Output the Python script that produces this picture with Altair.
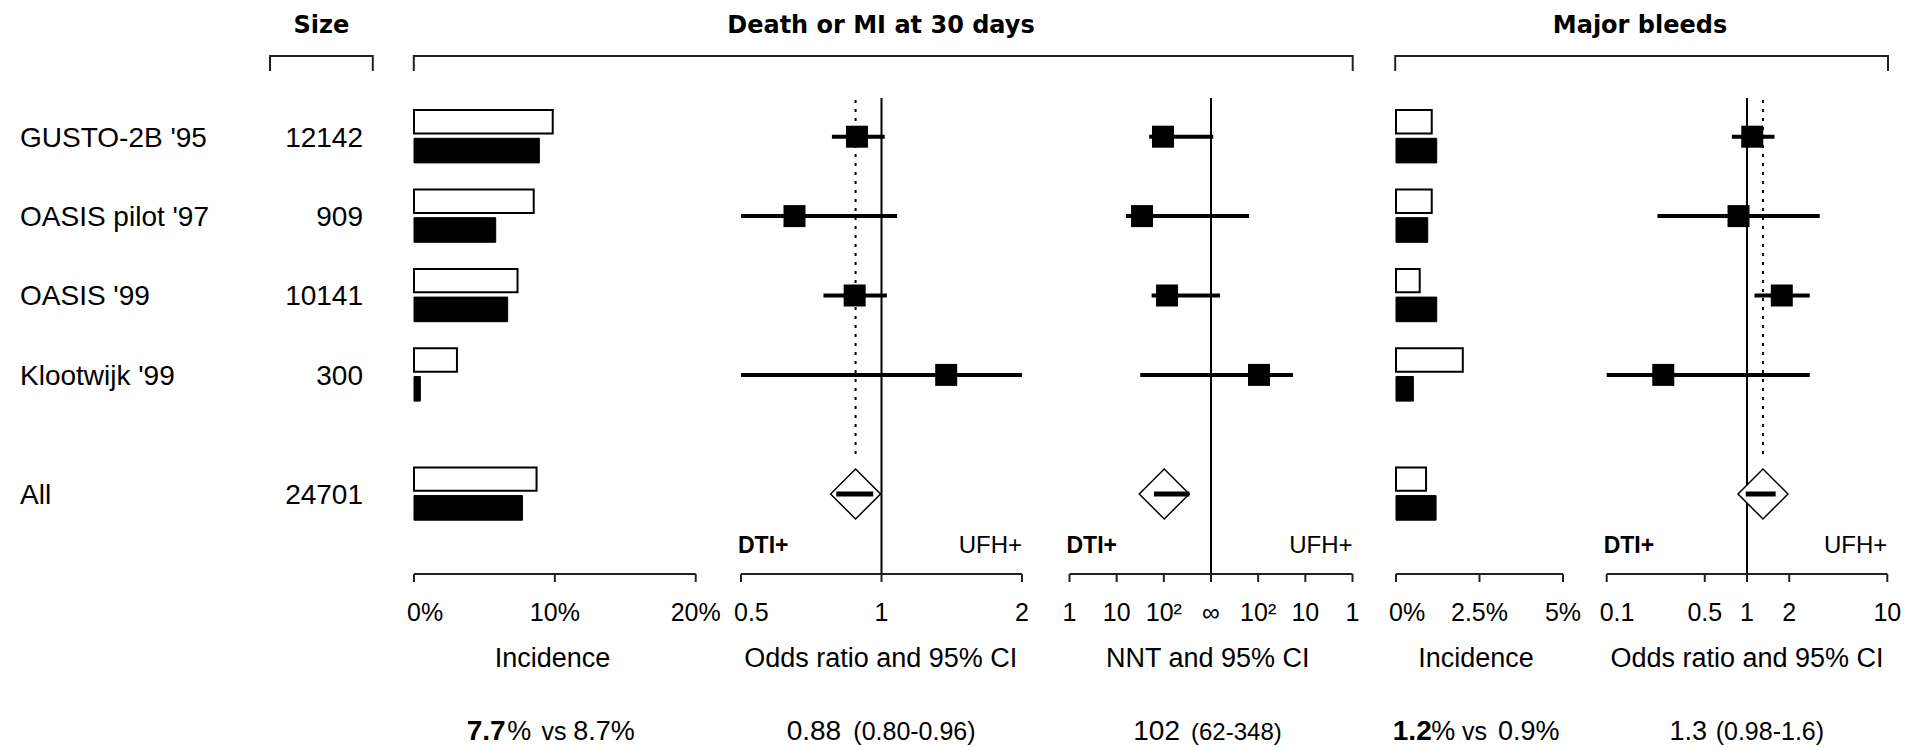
import math
import altair as alt
import pandas as pd

# ------------------------------------------------------------------ data
studies = ["GUSTO-2B '95", "OASIS pilot '97", "OASIS '99", "Klootwijk '99", "All"]
sizes = ["12142", "909", "10141", "300", "24701"]
row_index = [0, 1, 2, 3, 4.5]          # pooled row sits half a row lower

# Death or MI at 30 days
death_inc_ufh = [9.85, 8.5, 7.35, 3.05, 8.7]     # open bars
death_inc_dti = [8.9, 5.8, 6.65, 0.45, 7.7]      # filled bars
death_or = [0.886, 0.651, 0.876, 1.376, 0.88]
death_or_lo = [0.783, 0.50, 0.751, 0.50, 0.80]
death_or_hi = [1.016, 1.08, 1.027, 2.0, 0.96]
# NNT (negative = DTI better, positive = UFH better)
nnt = [-96, -34.5, -117, 96, -102]
nnt_lo = [-49, -15.7, -55, -31.6, -62]
nnt_hi = [898, 156, 646, 18.3, -348]

# Major bleeds
bleed_inc_ufh = [1.07, 1.07, 0.71, 2.0, 0.9]
bleed_inc_dti = [1.22, 0.95, 1.22, 0.52, 1.2]
bleed_or = [1.09, 0.87, 1.77, 0.253, 1.3]
bleed_or_lo = [0.78, 0.23, 1.13, 0.10, 0.98]
bleed_or_hi = [1.57, 3.3, 2.8, 2.8, 1.6]

# axes
inc1_ticks = [0, 10, 20]
inc1_labels = ["0%", "10%", "20%"]
or1_ticks = [0.5, 1, 2]
or1_labels = ["0.5", "1", "2"]
nnt_ticks = [-1, -10, -100, float("inf"), 100, 10, 1]
nnt_labels = ["1", "10", "10\u00b2", "\u221e", "10\u00b2", "10", "1"]
inc2_ticks = [0, 2.5, 5]
inc2_labels = ["0%", "2.5%", "5%"]
or2_ticks = [0.1, 0.5, 1, 2, 10]
or2_labels = ["0.1", "0.5", "1", "2", "10"]

# texts
titles = ["Size", "Death or MI at 30 days", "Major bleeds"]
axis_titles = ["Incidence", "Odds ratio and 95% CI", "NNT and 95% CI",
               "Incidence", "Odds ratio and 95% CI"]
side_labels = ["DTI+", "UFH+"]
sum_death_inc = ["7.7", "%", "vs", "8.7%"]
sum_death_or = ["0.88", "(0.80-0.96)"]
sum_nnt = ["102", "(62-348)"]
sum_bleed_inc = ["1.2", "%", "vs", "0.9%"]
sum_bleed_or = ["1.3", "(0.98-1.6)"]


def nnt_pos(n):
    """Position on the NNT axis: 1,10,100 equally spaced towards infinity."""
    if math.isinf(n):
        return 0.0
    s = -1.0 if n < 0 else 1.0
    return s * (3 - math.log10(abs(n)))


# ------------------------------------------------------------------ layout
W, H = 1893, 739
FONT = "Liberation Sans"
BOLD_FONT = "DejaVu Sans"

Y_ROW = alt.Scale(domain=[-1.6209, 7.6864], range=[0, H], nice=False, zero=False)
X_INC1 = alt.Scale(domain=[0, 20], range=[406, 687.7], nice=False, zero=False)
X_OR1 = alt.Scale(type="log", domain=[0.5, 2], range=[733, 1014], nice=False)
X_NNT = alt.Scale(domain=[-3, 3], range=[1061.5, 1344.5], nice=False, zero=False)
X_INC2 = alt.Scale(domain=[0, 5], range=[1388, 1555], nice=False, zero=False)
X_OR2 = alt.Scale(type="log", domain=[0.1, 10], range=[1598.7, 1879.3], nice=False)

df = pd.DataFrame({
    "study": studies, "size": sizes, "row": row_index,
    "is_all": [s == "All" for s in studies],
    "zero": 0.0,
    "d_ufh": death_inc_ufh, "d_dti": death_inc_dti,
    "or1": death_or, "or1_lo": death_or_lo, "or1_hi": death_or_hi,
    "nnt_u": [nnt_pos(v) for v in nnt],
    "nnt_lo_u": [nnt_pos(v) for v in nnt_lo],
    "nnt_hi_u": [nnt_pos(v) for v in nnt_hi],
    "b_ufh": bleed_inc_ufh, "b_dti": bleed_inc_dti,
    "or2": bleed_or, "or2_lo": bleed_or_lo, "or2_hi": bleed_or_hi,
})
one = pd.DataFrame({"k": [0]})
ref = pd.DataFrame({"or_ref": [1.0], "nnt_ref": [0.0]})

base = alt.Chart(df)
trials = base.transform_filter("!datum.is_all")
pooled = base.transform_filter("datum.is_all")


def Yr(field):
    return alt.Y(field, type="quantitative", scale=Y_ROW, axis=None)


def Xs(field, scale):
    return alt.X(field, type="quantitative", scale=scale, axis=None)


def txt(s, x, y, size=27, bold=False, align="left", font=FONT):
    return alt.Chart(one).mark_text(
        text=s, fontSize=size, fontWeight="bold" if bold else "normal",
        align=align, baseline="alphabetic", font=font, color="black"
    ).encode(x=alt.value(x), y=alt.value(y))


def hrule(x1, x2, y, w=2):
    return alt.Chart(one).mark_rule(strokeWidth=w, color="#222").encode(
        x=alt.value(x1), x2=alt.value(x2), y=alt.value(y))


def vrule(x, y1, y2, w=2):
    return alt.Chart(one).mark_rule(strokeWidth=w, color="#222").encode(
        x=alt.value(x), y=alt.value(y1), y2=alt.value(y2))


L = []

# ---- titles and brackets
L.append(txt(titles[0], 313.4, 25, size=24, bold=True, align="center", font=BOLD_FONT))
L.append(txt(titles[1], 873, 25, size=24, bold=True, align="center", font=BOLD_FONT))
L.append(txt(titles[2], 1632, 25, size=24, bold=True, align="center", font=BOLD_FONT))
for x1, x2 in [(262, 364.8), (405.8, 1344.7), (1387.2, 1880)]:
    L.append(hrule(x1, x2, 48))
    L.append(vrule(x1, 47, 63))
    L.append(vrule(x2, 47, 63))

# ---- row labels
L.append(base.mark_text(align="left", baseline="alphabetic", dy=10, fontSize=28,
                        font=FONT, color="black")
         .encode(x=alt.value(12), y=Yr("row"), text="study:N"))
L.append(base.mark_text(align="right", baseline="alphabetic", dy=10, fontSize=28,
                        font=FONT, color="black")
         .encode(x=alt.value(355), y=Yr("row"), text="size:N"))


# ---- incidence bars
def inc_bars(f_open, f_fill, scale):
    out = []
    out.append(base.transform_calculate(t="datum.row - 0.335", b="datum.row - 0.04")
               .mark_rect(fill="white", stroke="black", strokeWidth=2)
               .encode(x=Xs("zero", scale), x2=alt.X2(f_open), y=Yr("t"), y2=alt.Y2("b")))
    out.append(base.transform_calculate(t="datum.row + 0.02", b="datum.row + 0.33")
               .mark_rect(fill="black", stroke="black", strokeWidth=1)
               .encode(x=Xs("zero", scale), x2=alt.X2(f_fill), y=Yr("t"), y2=alt.Y2("b")))
    return out


L += inc_bars("d_ufh", "d_dti", X_INC1)
L += inc_bars("b_ufh", "b_dti", X_INC2)


# ---- reference lines
def ref_line(field, scale):
    return alt.Chart(ref).mark_rule(strokeWidth=2, color="black").encode(
        x=Xs(field, scale), y=alt.value(90), y2=alt.value(566))


def pooled_dotted(field, scale):
    return pooled.mark_rule(strokeWidth=2, strokeDash=[3, 6], color="black").encode(
        x=Xs(field, scale), y=alt.value(92), y2=alt.value(452))


L.append(ref_line("or_ref", X_OR1))
L.append(ref_line("nnt_ref", X_NNT))
L.append(ref_line("or_ref", X_OR2))
L.append(pooled_dotted("or1", X_OR1))
L.append(pooled_dotted("or2", X_OR2))


# ---- forest panels
def forest(f, flo, fhi, scale):
    out = []
    out.append(trials.mark_rule(strokeWidth=4, color="black")
               .encode(x=Xs(flo, scale), x2=alt.X2(fhi), y=Yr("row")))
    out.append(trials.mark_point(shape="square", filled=True, size=484,
                                 color="black", opacity=1)
               .encode(x=Xs(f, scale), y=Yr("row")))
    out.append(pooled.mark_point(shape="diamond", filled=True, size=2500, fill="white",
                                 stroke="black", strokeWidth=1.5, opacity=1)
               .encode(x=Xs(f, scale), y=Yr("row")))
    out.append(pooled.mark_rule(strokeWidth=5, color="black")
               .encode(x=Xs(flo, scale), x2=alt.X2(fhi), y=Yr("row")))
    return out


L += forest("or1", "or1_lo", "or1_hi", X_OR1)
L += forest("nnt_u", "nnt_lo_u", "nnt_hi_u", X_NNT)
L += forest("or2", "or2_lo", "or2_hi", X_OR2)


# ---- axes
def axis(vals, labels, scale, first_left, sides):
    tdf = pd.DataFrame({"v": vals, "lab": labels, "i": list(range(len(vals)))})
    adf = pd.DataFrame({"lo": [vals[0]], "hi": [vals[-1]]})
    out = []
    out.append(alt.Chart(adf).mark_rule(strokeWidth=2, color="#222")
               .encode(x=Xs("lo", scale), x2=alt.X2("hi"), y=alt.value(566)))
    out.append(alt.Chart(tdf).mark_rule(strokeWidth=2, color="#222")
               .encode(x=Xs("v", scale), y=alt.value(566), y2=alt.value(574)))
    lab = alt.Chart(tdf)
    if first_left:
        out.append(lab.transform_filter("datum.i == 0")
                   .mark_text(align="left", dx=-7, baseline="alphabetic", fontSize=25,
                              font=FONT, color="black")
                   .encode(x=Xs("v", scale), y=alt.value(613), text="lab:N"))
        out.append(lab.transform_filter("datum.i > 0")
                   .mark_text(align="center", baseline="alphabetic", fontSize=25,
                              font=FONT, color="black")
                   .encode(x=Xs("v", scale), y=alt.value(613), text="lab:N"))
    else:
        out.append(lab.mark_text(align="center", baseline="alphabetic", fontSize=25,
                                 font=FONT, color="black")
                   .encode(x=Xs("v", scale), y=alt.value(613), text="lab:N"))
    if sides:
        out.append(alt.Chart(adf).mark_text(text=side_labels[0], align="left", dx=-3,
                                            baseline="alphabetic", fontSize=23,
                                            fontWeight="bold", font=FONT, color="black")
                   .encode(x=Xs("lo", scale), y=alt.value(545)))
        out.append(alt.Chart(adf).mark_text(text=side_labels[1], align="right", dx=0,
                                            baseline="alphabetic", fontSize=24,
                                            font=FONT, color="black")
                   .encode(x=Xs("hi", scale), y=alt.value(545)))
    return out


L += axis(inc1_ticks, inc1_labels, X_INC1, True, False)
L += axis(or1_ticks, or1_labels, X_OR1, True, True)
L += axis([nnt_pos(v) for v in nnt_ticks], nnt_labels, X_NNT, False, True)
L += axis(inc2_ticks, inc2_labels, X_INC2, True, False)
L += axis(or2_ticks, or2_labels, X_OR2, True, True)

# ---- axis titles
for s, x in zip(axis_titles, [544.5, 872.8, 1199.8, 1468, 1739]):
    L.append(txt(s, x, 659, size=27, align="center"))

# ---- summaries
YS = 732
L.append(txt(sum_death_inc[0], 458.7, YS, size=28, bold=True))
L.append(txt(sum_death_inc[1], 499.3, YS, size=27))
L.append(txt(sum_death_inc[2], 533.5, YS, size=25))
L.append(txt(sum_death_inc[3], 565.3, YS, size=27))
L.append(txt(sum_death_or[0], 778.7, YS, size=28))
L.append(txt(sum_death_or[1], 845.3, YS, size=25))
L.append(txt(sum_nnt[0], 1125.3, YS, size=28))
L.append(txt(sum_nnt[1], 1183, YS, size=24))
L.append(txt(sum_bleed_inc[0], 1384.8, YS, size=28, bold=True))
L.append(txt(sum_bleed_inc[1], 1423.3, YS, size=27))
L.append(txt(sum_bleed_inc[2], 1454, YS, size=25))
L.append(txt(sum_bleed_inc[3], 1490, YS, size=27))
L.append(txt(sum_bleed_or[0], 1661.5, YS, size=27))
L.append(txt(sum_bleed_or[1], 1707.7, YS, size=25))

chart = (
    alt.layer(*L)
    .resolve_scale(x="independent")
    .properties(width=W, height=H, padding=0,
                autosize=alt.AutoSizeParams(type="none"))
    .configure_view(stroke=None)
)

chart.save("out.html", embed_options={"renderer": "svg", "actions": False})
